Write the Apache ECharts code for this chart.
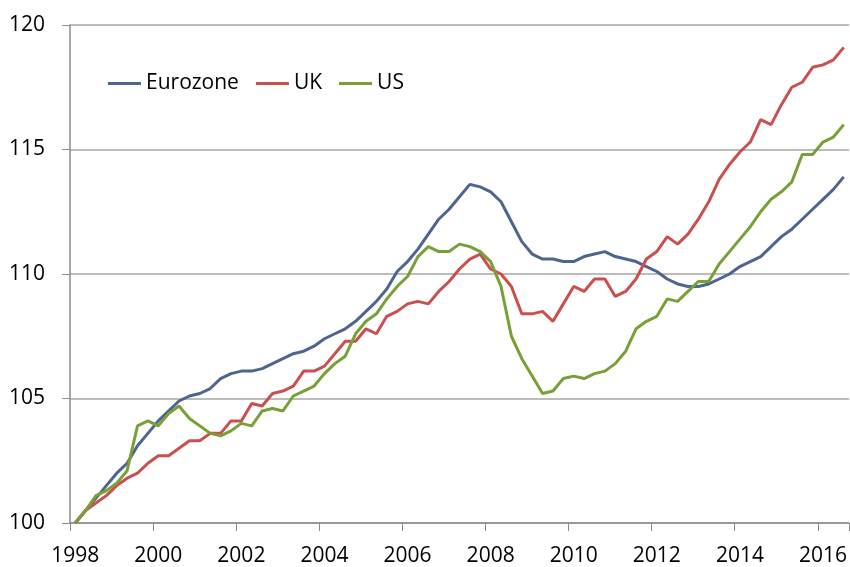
<!DOCTYPE html>
<html>
<head>
<meta charset="utf-8">
<script src="https://cdn.jsdelivr.net/npm/echarts@6/dist/echarts.min.js"></script>
<style>
html,body{margin:0;padding:0;background:#fff;}
#chart{width:850px;height:567px;}
</style>
</head>
<body>
<div id="chart"></div>
<script>
var quarters = [
'1998Q1','1998Q2','1998Q3','1998Q4','1999Q1','1999Q2','1999Q3','1999Q4',
'2000Q1','2000Q2','2000Q3','2000Q4','2001Q1','2001Q2','2001Q3','2001Q4',
'2002Q1','2002Q2','2002Q3','2002Q4','2003Q1','2003Q2','2003Q3','2003Q4',
'2004Q1','2004Q2','2004Q3','2004Q4','2005Q1','2005Q2','2005Q3','2005Q4',
'2006Q1','2006Q2','2006Q3','2006Q4','2007Q1','2007Q2','2007Q3','2007Q4',
'2008Q1','2008Q2','2008Q3','2008Q4','2009Q1','2009Q2','2009Q3','2009Q4',
'2010Q1','2010Q2','2010Q3','2010Q4','2011Q1','2011Q2','2011Q3','2011Q4',
'2012Q1','2012Q2','2012Q3','2012Q4','2013Q1','2013Q2','2013Q3','2013Q4',
'2014Q1','2014Q2','2014Q3','2014Q4','2015Q1','2015Q2','2015Q3','2015Q4',
'2016Q1','2016Q2','2016Q3'
];
var seriesNames = ['Eurozone', 'UK', 'US'];
var eurozone = [
100.0,100.5,101.0,101.5,102.0,102.4,103.1,103.6,104.1,104.5,
104.9,105.1,105.2,105.4,105.8,106.0,106.1,106.1,106.2,106.4,
106.6,106.8,106.9,107.1,107.4,107.6,107.8,108.1,108.5,108.9,
109.4,110.1,110.5,111.0,111.6,112.2,112.6,113.1,113.6,113.5,
113.3,112.9,112.1,111.3,110.8,110.6,110.6,110.5,110.5,110.7,
110.8,110.9,110.7,110.6,110.5,110.3,110.1,109.8,109.6,109.5,
109.5,109.6,109.8,110.0,110.3,110.5,110.7,111.1,111.5,111.8,
112.2,112.6,113.0,113.4,113.9
];
var uk = [
100.0,100.5,100.8,101.1,101.5,101.8,102.0,102.4,102.7,102.7,
103.0,103.3,103.3,103.6,103.6,104.1,104.1,104.8,104.7,105.2,
105.3,105.5,106.1,106.1,106.3,106.8,107.3,107.3,107.8,107.6,
108.3,108.5,108.8,108.9,108.8,109.3,109.7,110.2,110.6,110.8,
110.2,110.0,109.5,108.4,108.4,108.5,108.1,108.8,109.5,109.3,
109.8,109.8,109.1,109.3,109.8,110.6,110.9,111.5,111.2,111.6,
112.2,112.9,113.8,114.4,114.9,115.3,116.2,116.0,116.8,117.5,
117.7,118.3,118.4,118.6,119.1
];
var us = [
100.0,100.5,101.1,101.3,101.6,102.1,103.9,104.1,103.9,104.4,
104.7,104.2,103.9,103.6,103.5,103.7,104.0,103.9,104.5,104.6,
104.5,105.1,105.3,105.5,106.0,106.4,106.7,107.6,108.1,108.4,
109.0,109.5,109.9,110.7,111.1,110.9,110.9,111.2,111.1,110.9,
110.5,109.5,107.5,106.6,105.9,105.2,105.3,105.8,105.9,105.8,
106.0,106.1,106.4,106.9,107.8,108.1,108.3,109.0,108.9,109.3,
109.7,109.7,110.4,110.9,111.4,111.9,112.5,113.0,113.3,113.7,
114.8,114.8,115.3,115.5,116.0
];
var colors = ['#4E6590', '#C9504E', '#78A037'];
var font = '"Open Sans", sans-serif';

var chart = echarts.init(document.getElementById('chart'), null, {renderer: 'canvas'});
function mk(name, data, c) {
  return {
    name: name, type: 'line', data: data, symbol: 'none', smooth: false,
    lineStyle: {color: c, width: 3}, itemStyle: {color: c},
    emphasis: {disabled: true}, animation: false
  };
}
chart.setOption({
  animation: false,
  backgroundColor: '#ffffff',
  grid: {left: 70, right: 0, top: 25, bottom: 42, containLabel: false},
  legend: {
    left: 103, top: 68, icon: 'rect', itemWidth: 33, itemHeight: 3, itemGap: 17,
    textStyle: {fontFamily: font, fontSize: 21, color: '#000'},
    data: seriesNames
  },
  xAxis: {
    type: 'category', data: quarters, boundaryGap: true,
    axisLine: {show: true, lineStyle: {color: '#8c8c8c', width: 1.5}},
    axisTick: {show: true, interval: 7, length: 8, inside: false, lineStyle: {color: '#8c8c8c', width: 1}},
    axisLabel: {interval: 7, margin: 23, fontFamily: font, fontSize: 21, color: '#000',
      formatter: function (v) { return v.slice(0, 4); }},
    splitLine: {show: false}
  },
  yAxis: {
    type: 'value', min: 100, max: 120, interval: 5,
    axisLine: {show: true, lineStyle: {color: '#8c8c8c', width: 1.5}},
    axisTick: {show: true, length: 8, lineStyle: {color: '#8c8c8c', width: 1}},
    axisLabel: {margin: 25, fontFamily: font, fontSize: 21, color: '#000'},
    splitLine: {show: true, lineStyle: {color: '#a6a6a6', width: 1.5}}
  },
  series: [
    mk(seriesNames[0], eurozone, colors[0]),
    mk(seriesNames[1], uk, colors[1]),
    mk(seriesNames[2], us, colors[2])
  ]
});
</script>
</body>
</html>
